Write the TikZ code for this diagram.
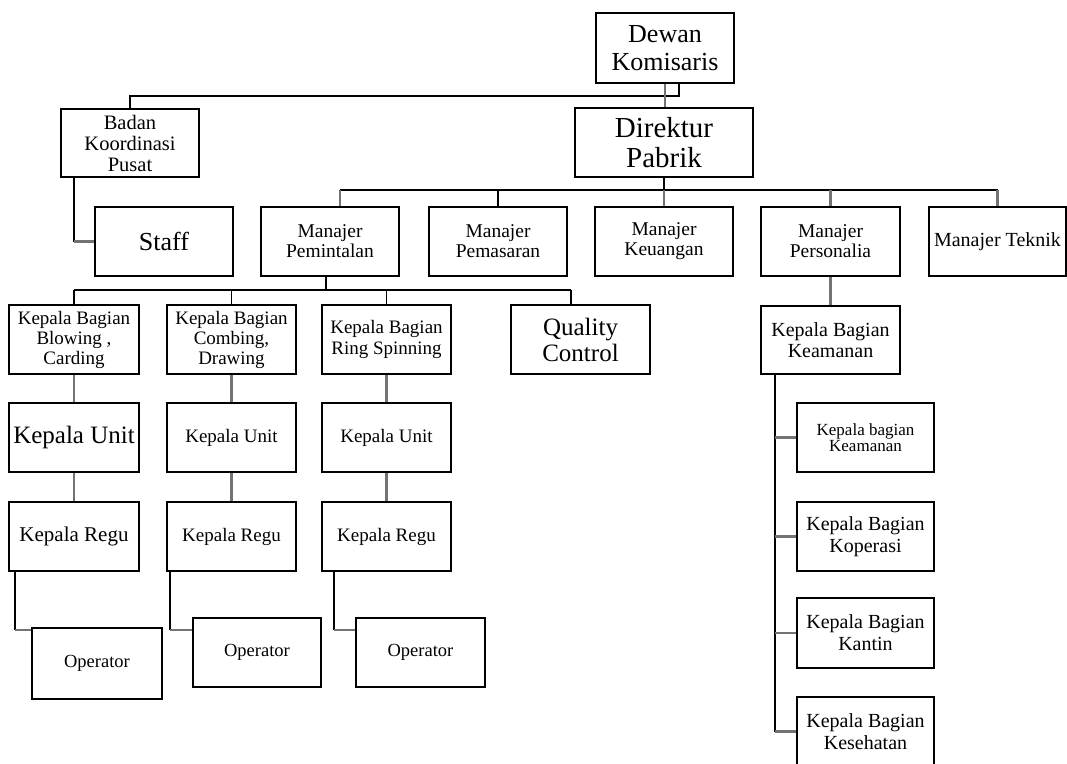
\documentclass[tikz,border=0pt]{standalone}
\usepackage{fontspec}
\setmainfont{Liberation Serif}
\newcommand{\fs}[2]{\fontsize{#1}{#2}\selectfont}
\begin{document}
\begin{tikzpicture}[x=1pt,y=-1pt,
  box/.style={draw, line width=1.5pt, inner sep=0pt, align=center, minimum width=138pt, minimum height=69pt},
  bus/.style={draw=black, line width=1.6pt},
  link/.style={draw=black!55, line width=2.4pt}]
\useasboundingbox (0,0) rectangle (1067,763);
\begin{scope}
\clip (0,0) rectangle (1067,763);
% top
\node[box, minimum width=138pt, minimum height=70pt, font=\fs{26}{28}] (dewan) at (665,48) {Dewan\\Komisaris};
\node[box, minimum width=178pt, font=\fs{29}{30}] (direktur) at (664,142.5) {Direktur\\Pabrik};
\node[box, minimum height=68pt, font=\fs{20.5}{21}] (badan) at (130,143) {Badan\\Koordinasi\\Pusat};
\node[box, font=\fs{26}{28}] (staff) at (164,241.5) {Staff};
% managers
\node[box, font=\fs{19.5}{20}] (pemint) at (330,241.5) {Manajer\\Pemintalan};
\node[box, font=\fs{19.5}{20}] (pemas) at (498,241.5) {Manajer\\Pemasaran};
\node[box, font=\fs{19.5}{20}] (keu) at (664,241.5) {Manajer\\Keuangan};
\node[box, minimum width=139pt, font=\fs{19.5}{20}] (pers) at (830.5,241.5) {Manajer\\Personalia};
\node[box, minimum width=137pt, font=\fs{20}{20}] (teknik) at (997.5,241.5) {Manajer Teknik};
% kepala bagian row
\node[box, minimum width=130pt, font=\fs{19}{20}] (blow) at (74,339.5) {Kepala Bagian\\Blowing ,\\Carding};
\node[box, minimum width=129pt, font=\fs{19}{20}] (comb) at (231.5,339.5) {Kepala Bagian\\Combing,\\Drawing};
\node[box, minimum width=129pt, font=\fs{19}{21}] (ring) at (386.5,339.5) {Kepala Bagian\\Ring Spinning};
\node[box, minimum width=139pt, font=\fs{25}{26}] (qc) at (580.5,339.5) {Quality\\Control};
% units
\node[box, minimum width=130pt, font=\fs{25}{26}] (unit1) at (74,437.5) {Kepala Unit};
\node[box, minimum width=129pt, font=\fs{19}{20}] (unit2) at (231.5,437.5) {Kepala Unit};
\node[box, minimum width=129pt, font=\fs{19}{20}] (unit3) at (386.5,437.5) {Kepala Unit};
% regu
\node[box, minimum width=130pt, font=\fs{21}{22}] (regu1) at (74,536.5) {Kepala Regu};
\node[box, minimum width=129pt, font=\fs{19}{20}] (regu2) at (231.5,536.5) {Kepala Regu};
\node[box, minimum width=129pt, font=\fs{19}{20}] (regu3) at (386.5,536.5) {Kepala Regu};
% operators
\node[box, minimum width=130pt, minimum height=71pt, font=\fs{18.5}{20}] (op1) at (97,663.5) {Operator};
\node[box, minimum width=128pt, font=\fs{18.5}{20}] (op2) at (257,652.5) {Operator};
\node[box, minimum width=129pt, font=\fs{18.5}{20}] (op3) at (420.5,652.5) {Operator};
% personalia branch
\node[box, minimum width=139pt, minimum height=68pt, font=\fs{20}{21}] (keam) at (830.5,340) {Kepala Bagian\\Keamanan};
\node[box, minimum width=137pt, font=\fs{17}{16}] (k1) at (865.5,437.5) {Kepala bagian\\Keamanan};
\node[box, minimum width=137pt, font=\fs{20}{22}] (k2) at (865.5,536.5) {Kepala Bagian\\Koperasi};
\node[box, minimum width=137pt, minimum height=70pt, font=\fs{20}{22}] (k3) at (865.5,633) {Kepala Bagian\\Kantin};
\node[box, minimum width=137pt, font=\fs{20}{22}] (k4) at (865.5,731.5) {Kepala Bagian\\Kesehatan};

% connectors top
\coordinate (d1) at ([xshift=14pt]dewan.south);
\draw[bus] (d1) -- ++(0,12) -| (badan.north);
\draw[link] (dewan.south) -- (dewan.south |- direktur.north);
\coordinate (bus1) at ([yshift=-12pt]direktur.south);
\draw[bus] (direktur.south) -- (bus1);
\coordinate (p1) at ([xshift=10pt]pemint.north);
\draw[bus] (p1 |- bus1) -- (teknik.north |- bus1);
\draw[link] (p1 |- bus1) -- (p1);
\draw[bus] (pemas.north |- bus1) -- (pemas.north);
\draw[link] (keu.north |- bus1) -- (keu.north);
\draw[link] (pers.north |- bus1) -- (pers.north);
\draw[link] (teknik.north |- bus1) -- (teknik.north);
% badan -> staff
\coordinate (s1) at ([xshift=14pt]badan.south west);
\draw[bus] (s1) -- (s1 |- staff.west);
\draw[link] (s1 |- staff.west) -- (staff.west);
% pemintalan bus
\coordinate (p2) at ([xshift=-4pt]pemint.south);
\coordinate (bus2) at ([yshift=-13pt]p2);
\draw[bus] (p2) -- (bus2);
\coordinate (q1) at ([xshift=-9.5pt]qc.north);
\draw[bus] (blow.north |- bus2) -- (q1 |- bus2);
\draw[bus] (blow.north |- bus2) -- (blow.north);
\draw[bus] (comb.north |- bus2) -- (comb.north);
\draw[bus] (ring.north |- bus2) -- (ring.north);
\draw[bus] (q1 |- bus2) -- (q1);
% columns
\draw[link] (blow) -- (unit1);
\draw[link] (unit1) -- (regu1);
\draw[link] (comb) -- (unit2);
\draw[link] (unit2) -- (regu2);
\draw[link] (ring) -- (unit3);
\draw[link] (unit3) -- (regu3);
% regu -> operator
\coordinate (r1) at ([xshift=7pt]regu1.south west);
\coordinate (o1) at ([yshift=-3pt]op1.north west);
\draw[bus] (r1) -- (r1 |- o1);
\draw[link] (r1 |- o1) -- (o1);
\coordinate (r2) at ([xshift=4pt]regu2.south west);
\coordinate (o2) at ([yshift=-13pt]op2.north west);
\draw[bus] (r2) -- (r2 |- o2);
\draw[link] (r2 |- o2) -- (o2);
\coordinate (r3) at ([xshift=13pt]regu3.south west);
\coordinate (o3) at ([yshift=-13pt]op3.north west);
\draw[bus] (r3) -- (r3 |- o3);
\draw[link] (r3 |- o3) -- (o3);
% personalia
\draw[link] (pers) -- (keam);
\coordinate (kp) at ([xshift=15pt]keam.south west);
\draw[bus] (kp) -- (kp |- k4.west);
\draw[link] (kp |- k1.west) -- (k1.west);
\draw[link] (kp |- k2.west) -- (k2.west);
\draw[link] (kp |- k3.west) -- (k3.west);
\draw[link] (kp |- k4.west) -- (k4.west);
\end{scope}
\end{tikzpicture}
\end{document}
